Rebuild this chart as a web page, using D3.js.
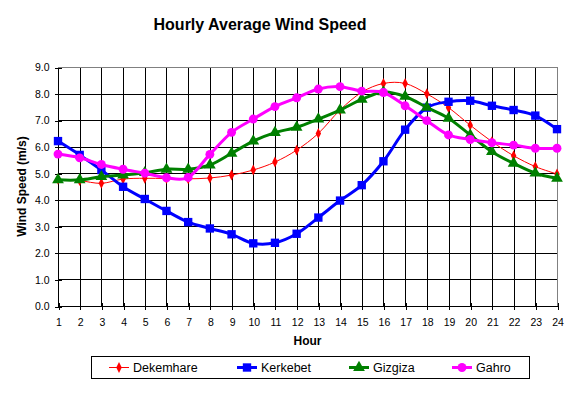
<!DOCTYPE html>
<html lang="en">
<meta charset="utf-8">
<title>Hourly Average Wind Speed</title>
<style>
    body { margin: 0; background: white; }
    text { font-family: Arial, "Liberation Sans", sans-serif; }
</style>
<body>
<svg id="canvas"></svg>
<script src="https://cdn.jsdelivr.net/npm/d3@7"></script>
<script>

    ////////////////////// Data ///////////////////////
    var hours      = [1, 2, 3, 4, 5, 6, 7, 8, 9, 10, 11, 12,
                      13, 14, 15, 16, 17, 18, 19, 20, 21, 22, 23, 24];
    var y_ticks    = [0, 1, 2, 3, 4, 5, 6, 7, 8, 9];
    var names      = ["Dekemhare", "Kerkebet", "Gizgiza", "Gahro"];
    var dekemhare  = [4.77, 4.72, 4.62, 4.78, 4.81, 4.80, 4.79, 4.82, 4.93, 5.12, 5.42, 5.87,
                      6.50, 7.38, 8.05, 8.38, 8.38, 7.99, 7.47, 6.81, 6.19, 5.66, 5.25, 4.97];
    var kerkebet   = [6.21, 5.69, 5.12, 4.49, 4.03, 3.58, 3.16, 2.92, 2.70, 2.36, 2.38, 2.72,
                      3.33, 3.97, 4.55, 5.45, 6.64, 7.47, 7.69, 7.73, 7.54, 7.38, 7.17, 6.66];
    var gizgiza    = [4.75, 4.75, 4.87, 4.93, 5.02, 5.15, 5.15, 5.31, 5.75, 6.21, 6.53, 6.73,
                      7.04, 7.38, 7.78, 8.06, 7.89, 7.48, 7.07, 6.44, 5.81, 5.37, 5.00, 4.81];
    var gahro      = [5.72, 5.58, 5.33, 5.15, 5.00, 4.83, 4.84, 5.71, 6.54, 7.04, 7.51, 7.84,
                      8.17, 8.26, 8.09, 8.04, 7.54, 6.98, 6.44, 6.27, 6.15, 6.06, 5.94, 5.94];
    ///////////////////////////////////////////////////

    ///////// Position and Dimension Variables ////////
    var dimensions = [576, 394];
    var plot_left  = 58;
    var plot_right = 557;
    var plot_top   = 67;
    var plot_bot   = 306;
    ///////////////////////////////////////////////////

    ///////////////// Style Variables /////////////////
    var colors     = ['#ff0000', '#0000ff', '#008000', '#ff00ff'];
    var widths     = [1, 3, 3, 3];
    var grid_color = 'black';
    var edge_color = '#808080';
    ///////////////////////////////////////////////////

    var series = [dekemhare, kerkebet, gizgiza, gahro];

    var canvas = d3.select("#canvas")
        .attr('width',  dimensions[0])
        .attr('height', dimensions[1])
        .style('display', 'block');

    var x = d3.scaleLinear().domain([1, 24]).range([plot_left, plot_right]);
    var y = d3.scaleLinear().domain([0, 9]).range([plot_bot, plot_top]);

    /////////////////////// title /////////////////////
    canvas.append("text")
        .attr('x', 260)
        .attr('y', 30)
        .attr('text-anchor', 'middle')
        .attr('font-size', 16)
        .attr('font-weight', 'bold')
        .text("Hourly Average Wind Speed");
    ///////////////////////////////////////////////////

    /////////////////////// grid //////////////////////
    var grid = canvas.append("g").attr('shape-rendering', 'crispEdges');
    grid.selectAll(".hgrid")
        .data(y_ticks.filter(function (d) { return d > 0 && d < 9; }))
        .enter().append("line")
        .attr('x1', plot_left).attr('x2', plot_right)
        .attr('y1', function (d) { return Math.round(y(d)) + 0.5; })
        .attr('y2', function (d) { return Math.round(y(d)) + 0.5; })
        .attr('stroke', grid_color);
    grid.selectAll(".vgrid")
        .data(hours.filter(function (d) { return d > 1 && d < 24; }))
        .enter().append("line")
        .attr('y1', plot_top).attr('y2', plot_bot)
        .attr('x1', function (d) { return Math.round(x(d)) + 0.5; })
        .attr('x2', function (d) { return Math.round(x(d)) + 0.5; })
        .attr('stroke', grid_color);
    // top and right border
    grid.append("path")
        .attr('d', "M" + (plot_left) + "," + (plot_top + 0.5) +
                   "H" + (plot_right + 0.5) + "V" + plot_bot)
        .attr('fill', 'none')
        .attr('stroke', edge_color);
    ///////////////////////////////////////////////////

    /////////////////////// axes //////////////////////
    var y_axis = canvas.append("g")
        .attr('transform', "translate(" + (plot_left + 0.5) + ",0.5)")
        .call(d3.axisLeft(y).tickValues(y_ticks).tickSize(4).tickPadding(5)
                .tickFormat(d3.format(".1f")));
    y_axis.selectAll("text").attr('font-size', 10.5).attr('font-family', null).attr('fill', 'black');
    y_axis.selectAll("line,path").attr('stroke', 'black').attr('shape-rendering', 'crispEdges');
    y_axis.select(".domain").attr('d', "M0," + plot_top + "V" + plot_bot);
    y_axis.selectAll(".tick line").attr('x2', -4).attr('x1', 3);

    var x_axis = canvas.append("g")
        .attr('transform', "translate(0.5," + (plot_bot + 0.5) + ")")
        .call(d3.axisBottom(x).tickValues(hours).tickSize(3).tickPadding(9)
                .tickFormat(d3.format("d")));
    x_axis.selectAll("text").attr('font-size', 10.5).attr('font-family', null).attr('fill', 'black');
    x_axis.selectAll("line,path").attr('stroke', 'black').attr('shape-rendering', 'crispEdges');
    x_axis.select(".domain").attr('d', "M" + plot_left + ",0H" + plot_right);
    x_axis.selectAll(".tick line").attr('y1', -4).attr('y2', 3);

    canvas.append("text")
        .attr('x', (plot_left + plot_right) / 2)
        .attr('y', 345)
        .attr('text-anchor', 'middle')
        .attr('font-size', 12)
        .attr('font-weight', 'bold')
        .text("Hour");
    canvas.append("text")
        .attr('transform', "translate(26," + ((plot_top + plot_bot) / 2) + ") rotate(-90)")
        .attr('text-anchor', 'middle')
        .attr('font-size', 12)
        .attr('font-weight', 'bold')
        .text("Wind Speed (m/s)");
    ///////////////////////////////////////////////////

    ///////////////////// markers /////////////////////
    var symbols = [d3.symbolDiamond, d3.symbolSquare, d3.symbolTriangle, d3.symbolCircle];
    var sizes   = [26, 70, 60, 62];

    function drawMarker(g, k, cx, cy) {
        g.append("path")
            .attr('d', d3.symbol().type(symbols[k]).size(sizes[k]))
            .attr('transform', "translate(" + cx + "," + cy + ")"
                  + (k == 0 ? " scale(1,1.15)" : ""))
            .attr('fill', colors[k]);
    }
    ///////////////////////////////////////////////////

    ////////////////////// series /////////////////////
    var line = d3.line()
        .x(function (d, i) { return x(hours[i]); })
        .y(function (d) { return y(d); })
        .curve(d3.curveCardinal.tension(0));

    series.forEach(function (values, k) {
        var g = canvas.append("g").attr('class', 'series');
        g.append("path")
            .attr('d', line(values))
            .attr('fill', 'none')
            .attr('stroke', colors[k])
            .attr('stroke-width', widths[k]);
        values.forEach(function (v, i) {
            drawMarker(g, k, x(hours[i]), y(v));
        });
    });
    ///////////////////////////////////////////////////

    ////////////////////// legend /////////////////////
    var legend = canvas.append("g");
    legend.append("rect")
        .attr('x', 91.5).attr('y', 356.5)
        .attr('width', 438).attr('height', 22)
        .attr('fill', 'white')
        .attr('stroke', 'black');
    var legend_x = [109, 237, 349, 452];
    names.forEach(function (name, k) {
        var lx = legend_x[k];
        legend.append("line")
            .attr('x1', lx).attr('x2', lx + 20)
            .attr('y1', 367.5).attr('y2', 367.5)
            .attr('stroke', colors[k])
            .attr('stroke-width', widths[k]);
        drawMarker(legend, k, lx + 10, 367.5);
        legend.append("text")
            .attr('x', lx + 24)
            .attr('y', 372)
            .attr('font-size', 12.5)
            .text(name);
    });
    ///////////////////////////////////////////////////

</script>
</body>
</html>
